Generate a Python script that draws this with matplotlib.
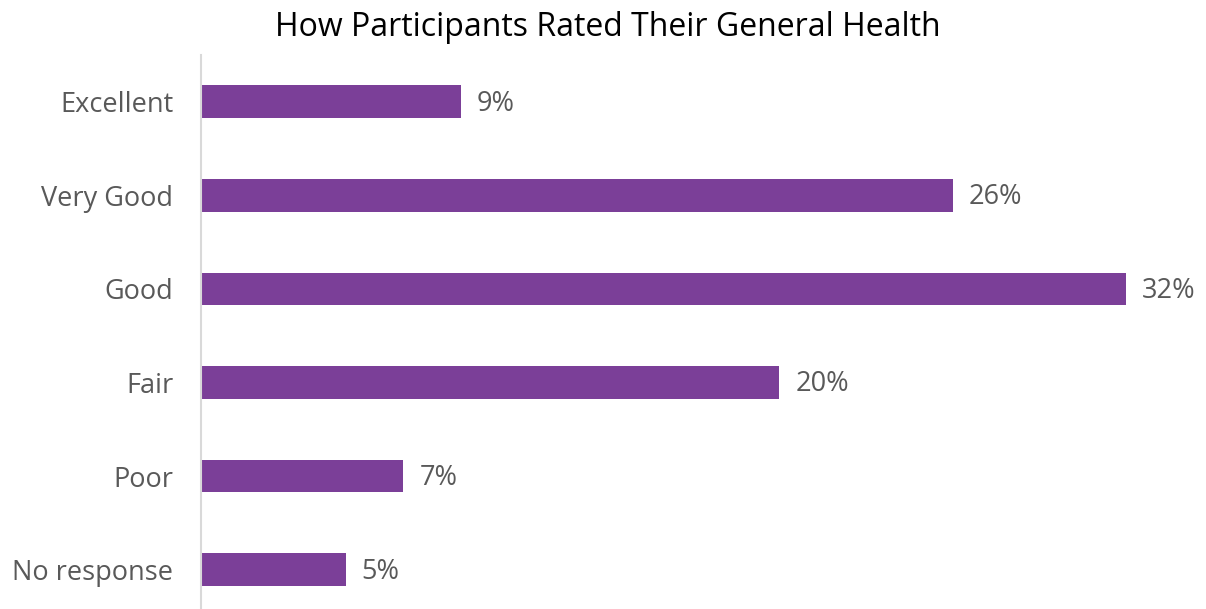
import matplotlib.pyplot as plt

categories = ["Excellent", "Very Good", "Good", "Fair", "Poor", "No response"]
values = [9, 26, 32, 20, 7, 5]
labels = ["9%", "26%", "32%", "20%", "7%", "5%"]

purple = "#7B3F98"
grey = "#595959"
font = "Open Sans"

fig = plt.figure(figsize=(12.06, 6.09), dpi=100)
ax = fig.add_axes([201 / 1206, 0.0, 983 / 1206, 1 - 55 / 609])

pos = list(range(len(categories)))
ax.barh(pos, values, height=0.35, color=purple)
for y, v, t in zip(pos, values, labels):
    ax.text(v + 0.55, y + 0.02, t, va="center", ha="left", fontsize=19.5,
            color=grey, family=font)

ax.set_xlim(0, 34)
ax.set_ylim(5.42, -0.5)
ax.set_yticks(pos)
ax.set_yticklabels(categories, fontsize=19.5, color=grey, family=font)
ax.tick_params(axis="y", length=0, pad=20)
ax.set_xticks([])
for s in ["top", "right", "bottom"]:
    ax.spines[s].set_visible(False)
ax.spines["left"].set_color("#d9d9d9")
ax.spines["left"].set_linewidth(1.5)

fig.text(608 / 1206, 1 - 27 / 609, "How Participants Rated Their General Health",
         ha="center", va="center", fontsize=23, color="black",
         family=font, fontweight="medium")

fig.savefig("out.png", dpi=100)
